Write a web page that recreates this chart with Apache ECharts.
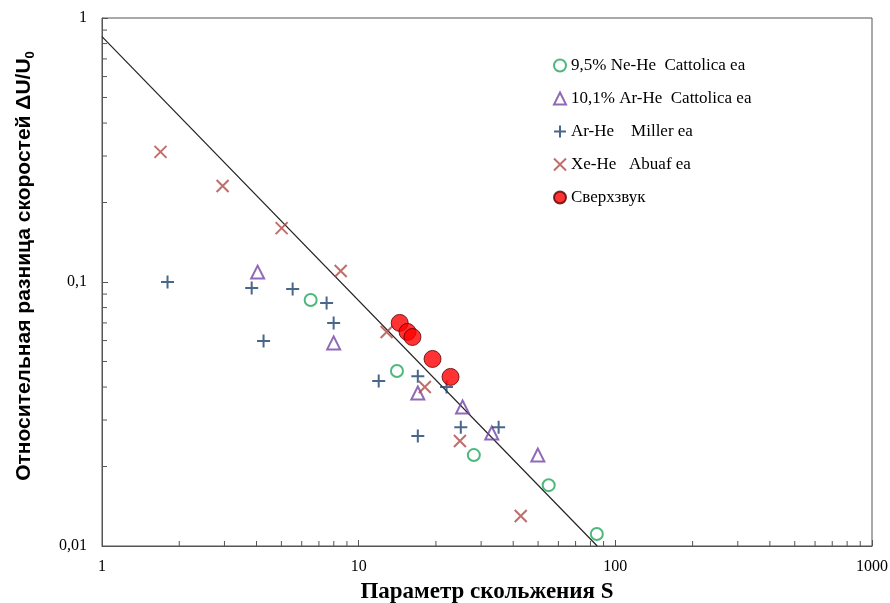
<!DOCTYPE html>
<html><head><meta charset="utf-8">
<script src="https://cdn.jsdelivr.net/npm/echarts@6/dist/echarts.min.js"></script>
<style>html,body{margin:0;padding:0;background:#fff}#c{width:890px;height:603px}</style>
</head><body><div id="c"></div>
<script>
// ---- data ----
const neHeX = [6.5, 14.1, 28.1, 55.0, 84.7];
const neHeY = [0.0855, 0.046, 0.0221, 0.0170, 0.0111];

const arHeCatX = [4.04, 7.99, 17.0, 25.4, 33.0, 49.9];
const arHeCatY = [0.109, 0.0588, 0.038, 0.0336, 0.0268, 0.0221];

const arHeMilX = [1.80, 3.83, 5.53, 7.50, 7.99, 4.26, 11.97, 17.0, 22.0, 25.0, 35.1, 17.0];
const arHeMilY = [0.100, 0.0949, 0.0941, 0.0833, 0.070, 0.0598, 0.0422, 0.044, 0.040, 0.0282, 0.0282, 0.0261];

const xeHeX = [1.69, 2.95, 5.01, 8.51, 12.85, 18.1, 24.8, 42.8];
const xeHeY = [0.311, 0.231, 0.160, 0.110, 0.0647, 0.040, 0.025, 0.013];

const superX = [14.45, 15.5, 16.2, 19.4, 22.8];
const superY = [0.070, 0.0647, 0.0619, 0.0511, 0.0437];

const fitX = [1, 85];
const fitY = [0.85, 0.01];

const seriesNames = ['9,5% Ne-He  Cattolica ea', '10,1% Ar-He  Cattolica ea', 'Ar-He    Miller ea', 'Xe-He   Abuaf ea', 'Сверхзвук'];

const xMin = 1, xMax = 1000, yMin = 0.01, yMax = 1;
const minorXTicks = [2,3,4,5,6,7,8,9,20,30,40,50,60,70,80,90,200,300,400,500,600,700,800,900];
const minorYTicks = [0.02,0.03,0.04,0.05,0.06,0.07,0.08,0.09,0.2,0.3,0.4,0.5,0.6,0.7,0.8,0.9];

// ---- chart ----
const zip = (a, b) => a.map((v, i) => [v, b[i]]);
const AX = '#555';
const serif = '"Liberation Serif", "Times New Roman", serif';
const sans = '"Liberation Sans", Arial, sans-serif';
const fmt = v => String(+Number(v).toPrecision(6)).replace('.', ',');

const plusPath = 'path://M0,-10L0,10M-10,0L10,0';
const crossPath = 'path://M-10,-10L10,10M-10,10L10,-10';

const chart = echarts.init(document.getElementById('c'), null, {renderer: 'canvas'});
chart.setOption({
  animation: false,
  backgroundColor: '#fff',
  grid: {left: 102, right: 18, top: 18, bottom: 57, show: true, borderColor: AX, borderWidth: 1,
         containLabel: false, outerBoundsMode: 'none'},
  legend: {
    orient: 'vertical', left: 548, top: 52, itemGap: 16, itemWidth: 12, itemHeight: 12,
    data: seriesNames,
    textStyle: {fontFamily: serif, fontSize: 17, color: '#000'}
  },
  xAxis: {
    type: 'log', logBase: 10, min: xMin, max: xMax,
    axisLine: {show: true, lineStyle: {color: AX}},
    axisTick: {show: true, inside: true, length: 6, lineStyle: {color: AX}},
    splitLine: {show: false},
    axisLabel: {fontFamily: serif, fontSize: 16, color: '#000', margin: 13, formatter: fmt},
    name: 'Параметр скольжения S', nameLocation: 'middle', nameGap: 35,
    nameTextStyle: {fontFamily: serif, fontSize: 23, fontWeight: 'bold', color: '#000'}
  },
  yAxis: {
    type: 'log', logBase: 10, min: yMin, max: yMax,
    axisLine: {show: true, lineStyle: {color: AX}},
    axisTick: {show: true, inside: true, length: 6, lineStyle: {color: AX}},
    splitLine: {show: false},
    axisLabel: {fontFamily: serif, fontSize: 16, color: '#000', margin: 15, formatter: fmt},
    name: '{a|Относительная разница скоростей ΔU/U}{s|0}', nameLocation: 'middle', nameGap: 65,
    nameTextStyle: {
      padding: [0, 0, 0, 32],
      rich: {
        a: {fontFamily: sans, fontSize: 21, fontWeight: 'bold', color: '#000', lineHeight: 25},
        s: {fontFamily: sans, fontSize: 13, fontWeight: 'bold', color: '#000', lineHeight: 25, verticalAlign: 'bottom'}
      }
    }
  },
  series: [
    {
      type: 'line', name: 'fit', data: zip(fitX, fitY), showSymbol: false, silent: true,
      lineStyle: {color: '#222', width: 1.2}, z: 1
    },
    {
      type: 'scatter', name: seriesNames[0], data: zip(neHeX, neHeY), symbol: 'circle', symbolSize: 12,
      itemStyle: {color: 'rgba(0,0,0,0)', borderColor: '#1fa85a', borderWidth: 2}
    },
    {
      type: 'scatter', name: seriesNames[1], data: zip(arHeCatX, arHeCatY), symbol: 'triangle', symbolSize: 13,
      itemStyle: {color: 'rgba(0,0,0,0)', borderColor: '#7444a6', borderWidth: 2}
    },
    {
      type: 'scatter', name: seriesNames[2], data: zip(arHeMilX, arHeMilY), symbol: plusPath, symbolSize: 13,
      itemStyle: {color: 'rgba(0,0,0,0)', borderColor: '#1b416e', borderWidth: 2}
    },
    {
      type: 'scatter', name: seriesNames[3], data: zip(xeHeX, xeHeY), symbol: crossPath, symbolSize: 12,
      itemStyle: {color: 'rgba(0,0,0,0)', borderColor: '#b04a47', borderWidth: 2}
    },
    {
      type: 'scatter', name: seriesNames[4], data: zip(superX, superY), symbol: 'circle', symbolSize: 17,
      itemStyle: {color: '#ff0000', borderColor: '#5a0000', borderWidth: 1}, z: 5
    },
    {
      type: 'custom', name: 'minorX', silent: true, clip: false,
      data: minorXTicks.map(v => [v, yMin]),
      renderItem: (params, api) => {
        const p = api.coord([api.value(0), api.value(1)]);
        return {type: 'line', shape: {x1: p[0], y1: p[1], x2: p[0], y2: p[1] - 5}, style: {stroke: AX, lineWidth: 1}};
      }
    },
    {
      type: 'custom', name: 'minorY', silent: true, clip: false,
      data: minorYTicks.map(v => [xMin, v]),
      renderItem: (params, api) => {
        const p = api.coord([api.value(0), api.value(1)]);
        return {type: 'line', shape: {x1: p[0], y1: p[1], x2: p[0] + 5, y2: p[1]}, style: {stroke: AX, lineWidth: 1}};
      }
    }
  ]
});
</script>
</body></html>
